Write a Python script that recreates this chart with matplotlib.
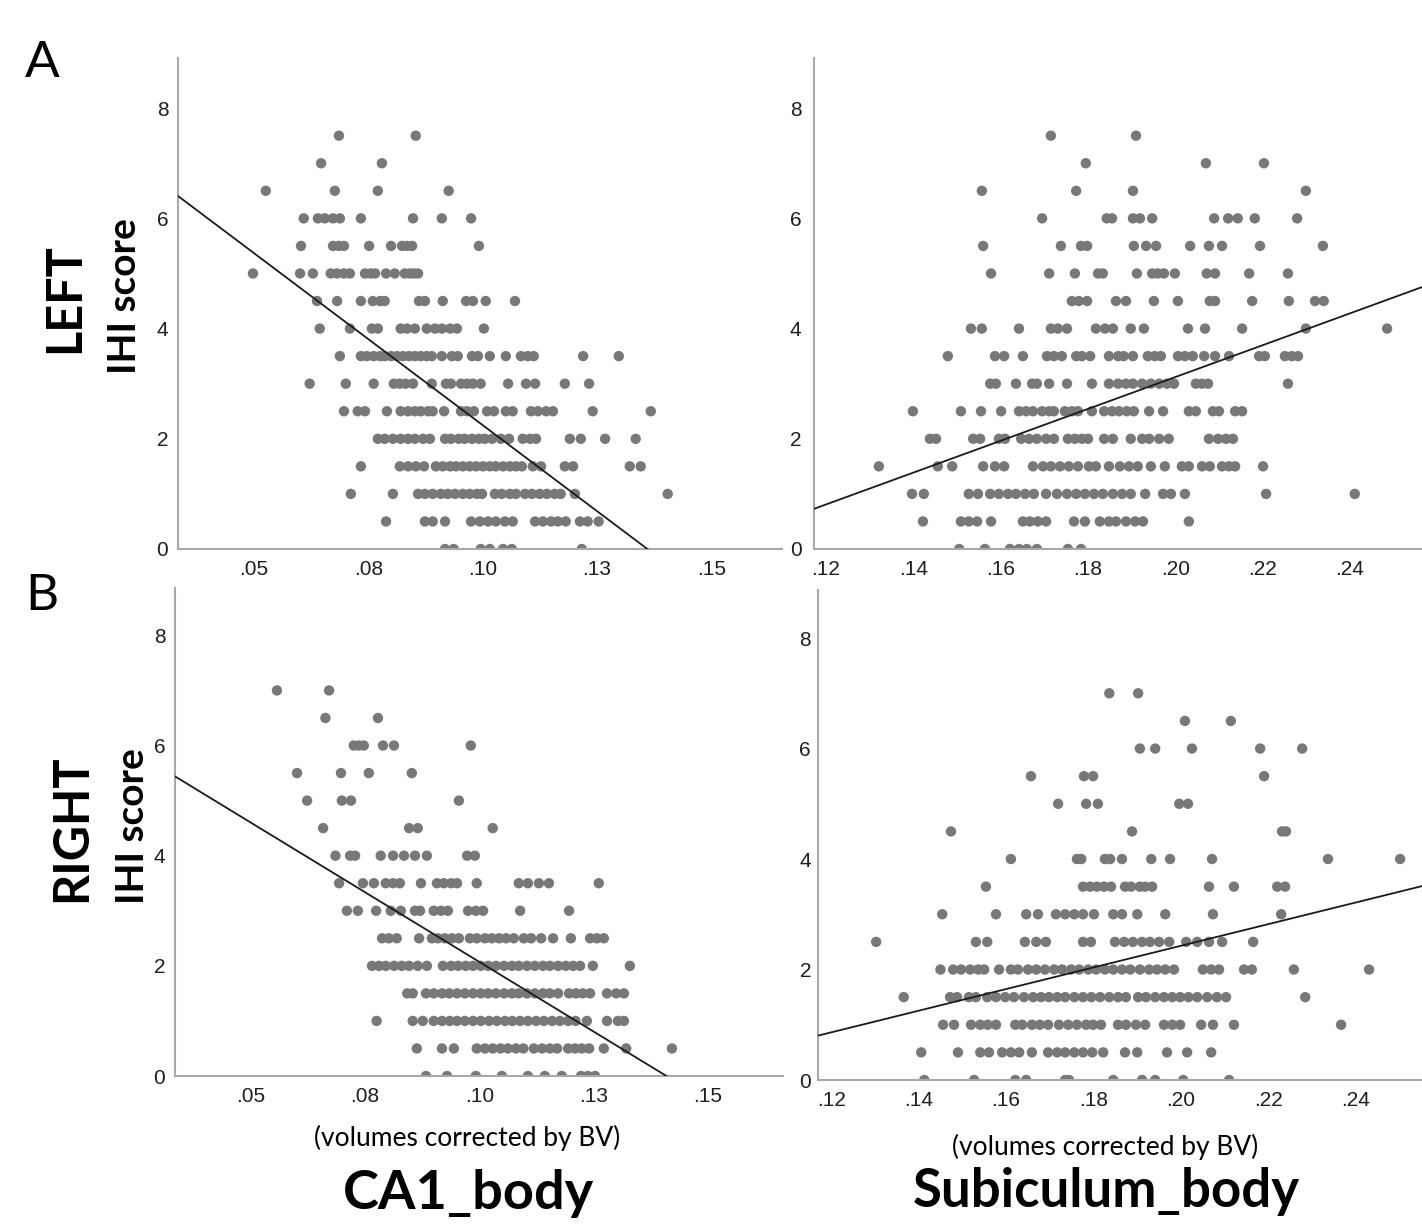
import numpy as np
import matplotlib
matplotlib.use('Agg')
import matplotlib.pyplot as plt

# IHI score rows, top to bottom (0.5 steps)
levels_left = [7.5, 7.0, 6.5, 6.0, 5.5, 5.0, 4.5, 4.0, 3.5, 3.0, 2.5, 2.0, 1.5, 1.0, 0.5, 0.0]
levels_right = [7.0, 6.5, 6.0, 5.5, 5.0, 4.5, 4.0, 3.5, 3.0, 2.5, 2.0, 1.5, 1.0, 0.5, 0.0]

# CA1_body, left hemisphere: x values per IHI row
ca1_left = [
    [0.0686, 0.0854],
    [0.0647, 0.0780],
    [0.0526, 0.0677, 0.0771, 0.0926],
    [0.0609, 0.0640, 0.0655, 0.0673, 0.0688, 0.0734, 0.0848, 0.0911, 0.0975],
    [0.0603, 0.0673, 0.0686, 0.0697, 0.0752, 0.0800, 0.0824, 0.0835, 0.0846, 0.0992],
    [0.0498, 0.0601, 0.0629, 0.0668, 0.0682, 0.0697, 0.0710, 0.0743, 0.0756, 0.0765, 0.0789, 0.0808,
     0.0830, 0.0841, 0.0850, 0.0859],
    [0.0638, 0.0682, 0.0734, 0.0760, 0.0776, 0.0786, 0.0861, 0.0874, 0.0913, 0.0964, 0.0979, 0.1007, 0.1071],
    [0.0644, 0.0710, 0.0758, 0.0771, 0.0821, 0.0835, 0.0852, 0.0878, 0.0896, 0.0911, 0.0929, 0.0944, 0.1003],
    [0.0688, 0.0734, 0.0747, 0.0762, 0.0776, 0.0786, 0.0800, 0.0813, 0.0826, 0.0839, 0.0852, 0.0865,
     0.0878, 0.0889, 0.0911, 0.0933, 0.0946, 0.0977, 0.0990, 0.1016, 0.1051, 0.1084, 0.1099, 0.1112,
     0.1220, 0.1298],
    [0.0622, 0.0701, 0.0762, 0.0806, 0.0819, 0.0832, 0.0848, 0.0889, 0.0920, 0.0931, 0.0953, 0.0966,
     0.0979, 0.0996, 0.1056, 0.1095, 0.1115, 0.1180, 0.1233],
    [0.0697, 0.0727, 0.0743, 0.0791, 0.0821, 0.0837, 0.0852, 0.0865, 0.0881, 0.0891, 0.0916, 0.0953,
     0.0966, 0.0981, 0.1010, 0.1025, 0.1051, 0.1066, 0.1106, 0.1121, 0.1139, 0.1154, 0.1241, 0.1368],
    [0.0771, 0.0786, 0.0804, 0.0821, 0.0837, 0.0852, 0.0870, 0.0885, 0.0918, 0.0931, 0.0948, 0.0961,
     0.0977, 0.0992, 0.1005, 0.1021, 0.1040, 0.1058, 0.1088, 0.1104, 0.1117, 0.1191, 0.1215, 0.1268, 0.1335],
    [0.0734, 0.0819, 0.0837, 0.0854, 0.0872, 0.0898, 0.0913, 0.0929, 0.0942, 0.0957, 0.0972, 0.0986,
     0.1001, 0.1016, 0.1029, 0.1045, 0.1060, 0.1073, 0.1086, 0.1110, 0.1128, 0.1180, 0.1198, 0.1322, 0.1346],
    [0.0712, 0.0804, 0.0859, 0.0874, 0.0891, 0.0909, 0.0924, 0.0940, 0.0957, 0.0972, 0.0988, 0.0999,
     0.1027, 0.1042, 0.1060, 0.1073, 0.1093, 0.1108, 0.1125, 0.1141, 0.1158, 0.1171, 0.1202, 0.1405],
    [0.0789, 0.0874, 0.0891, 0.0918, 0.0975, 0.0994, 0.1012, 0.1029, 0.1049, 0.1066, 0.1115, 0.1132,
     0.1150, 0.1165, 0.1182, 0.1213, 0.1230, 0.1254],
    [0.0918, 0.0937, 0.0996, 0.1016, 0.1045, 0.1064, 0.1217],
]

# Subiculum_body, left hemisphere
sub_left = [
    [0.1715, 0.1910],
    [0.1795, 0.2070, 0.2203],
    [0.1557, 0.1773, 0.1903, 0.2299],
    [0.1695, 0.1843, 0.1855, 0.1903, 0.1919, 0.1947, 0.2089, 0.2121, 0.2143, 0.2182, 0.2279],
    [0.1560, 0.1738, 0.1784, 0.1798, 0.1905, 0.1933, 0.1956, 0.2034, 0.2077, 0.2107, 0.2194, 0.2338],
    [0.1578, 0.1711, 0.1770, 0.1823, 0.1834, 0.1912, 0.1947, 0.1960, 0.1974, 0.1999, 0.2072, 0.2091,
     0.2169, 0.2258],
    [0.1763, 0.1779, 0.1798, 0.1864, 0.1887, 0.1951, 0.2006, 0.2079, 0.2091, 0.2176, 0.2260, 0.2320, 0.2340],
    [0.1532, 0.1557, 0.1642, 0.1715, 0.1731, 0.1752, 0.1818, 0.1839, 0.1857, 0.1898, 0.1928, 0.2029,
     0.2068, 0.2153, 0.2299, 0.2485],
    [0.1479, 0.1587, 0.1608, 0.1651, 0.1706, 0.1722, 0.1740, 0.1773, 0.1786, 0.1805, 0.1848, 0.1869,
     0.1882, 0.1903, 0.1937, 0.1953, 0.1967, 0.2006, 0.2022, 0.2040, 0.2066, 0.2091, 0.2123, 0.2192,
     0.2205, 0.2251, 0.2267, 0.2281],
    [0.1576, 0.1589, 0.1635, 0.1672, 0.1683, 0.1711, 0.1752, 0.1809, 0.1848, 0.1869, 0.1887, 0.1903,
     0.1924, 0.1944, 0.1963, 0.1981, 0.1997, 0.2047, 0.2061, 0.2075, 0.2258],
    [0.1399, 0.1509, 0.1555, 0.1601, 0.1642, 0.1658, 0.1674, 0.1695, 0.1711, 0.1722, 0.1747, 0.1763,
     0.1777, 0.1809, 0.1837, 0.1855, 0.1871, 0.1889, 0.1905, 0.1940, 0.1972, 0.2031, 0.2047, 0.2086,
     0.2100, 0.2137, 0.2153],
    [0.1438, 0.1452, 0.1537, 0.1553, 0.1596, 0.1610, 0.1647, 0.1665, 0.1683, 0.1704, 0.1722, 0.1754,
     0.1770, 0.1786, 0.1800, 0.1837, 0.1857, 0.1898, 0.1924, 0.1940, 0.1963, 0.1985, 0.2077, 0.2098,
     0.2116, 0.2132],
    [0.1321, 0.1456, 0.1489, 0.1560, 0.1587, 0.1608, 0.1674, 0.1697, 0.1715, 0.1736, 0.1756, 0.1777,
     0.1802, 0.1818, 0.1848, 0.1873, 0.1894, 0.1914, 0.1944, 0.1976, 0.2015, 0.2031, 0.2061, 0.2079,
     0.2107, 0.2123, 0.2137, 0.2201],
    [0.1397, 0.1424, 0.1527, 0.1548, 0.1576, 0.1596, 0.1617, 0.1635, 0.1656, 0.1676, 0.1704, 0.1729,
     0.1752, 0.1773, 0.1793, 0.1814, 0.1834, 0.1857, 0.1878, 0.1898, 0.1931, 0.1972, 0.1990, 0.2022,
     0.2208, 0.2411],
    [0.1422, 0.1509, 0.1527, 0.1546, 0.1578, 0.1651, 0.1667, 0.1685, 0.1704, 0.1768, 0.1793, 0.1827,
     0.1848, 0.1864, 0.1887, 0.1908, 0.1926, 0.2031],
    [0.1505, 0.1564, 0.1621, 0.1642, 0.1660, 0.1683, 0.1754, 0.1784],
]

# CA1_body, right hemisphere
ca1_right = [
    [0.0557, 0.0671],
    [0.0663, 0.0778],
    [0.0725, 0.0736, 0.0747, 0.0789, 0.0813, 0.0981],
    [0.0601, 0.0697, 0.0758, 0.0852],
    [0.0623, 0.0699, 0.0719, 0.0955],
    [0.0658, 0.0846, 0.0865, 0.1029],
    [0.0685, 0.0717, 0.0728, 0.0784, 0.0811, 0.0835, 0.0859, 0.0885, 0.0973, 0.0990],
    [0.0693, 0.0745, 0.0769, 0.0795, 0.0811, 0.0826, 0.0872, 0.0907, 0.0922, 0.0938, 0.0951, 0.0994,
     0.1086, 0.1106, 0.1130, 0.1152, 0.1261],
    [0.0710, 0.0734, 0.0774, 0.0806, 0.0828, 0.0859, 0.0870, 0.0900, 0.0916, 0.0931, 0.0975, 0.0992,
     0.1008, 0.1089, 0.1196],
    [0.0787, 0.0802, 0.0819, 0.0868, 0.0896, 0.0909, 0.0924, 0.0940, 0.0955, 0.0979, 0.0994, 0.1012,
     0.1027, 0.1043, 0.1058, 0.1075, 0.1097, 0.1113, 0.1135, 0.1161, 0.1200, 0.1242, 0.1257, 0.1272],
    [0.0765, 0.0780, 0.0795, 0.0813, 0.0830, 0.0846, 0.0865, 0.0885, 0.0920, 0.0938, 0.0953, 0.0970,
     0.0986, 0.1003, 0.1019, 0.1036, 0.1054, 0.1071, 0.1086, 0.1104, 0.1121, 0.1139, 0.1154, 0.1172,
     0.1189, 0.1205, 0.1220, 0.1248, 0.1329],
    [0.0842, 0.0854, 0.0883, 0.0900, 0.0918, 0.0934, 0.0951, 0.0968, 0.0986, 0.1003, 0.1019, 0.1036,
     0.1054, 0.1071, 0.1086, 0.1104, 0.1121, 0.1139, 0.1154, 0.1172, 0.1196, 0.1211, 0.1226, 0.1242,
     0.1279, 0.1299, 0.1316],
    [0.0775, 0.0854, 0.0876, 0.0900, 0.0918, 0.0935, 0.0951, 0.0968, 0.0986, 0.1003, 0.1021, 0.1038,
     0.1056, 0.1072, 0.1089, 0.1106, 0.1124, 0.1141, 0.1159, 0.1176, 0.1194, 0.1210, 0.1235, 0.1279,
     0.1303, 0.1316],
    [0.0863, 0.0918, 0.0944, 0.0994, 0.1012, 0.1029, 0.1046, 0.1062, 0.1080, 0.1096, 0.1119, 0.1137,
     0.1154, 0.1170, 0.1194, 0.1209, 0.1224, 0.1240, 0.1272, 0.1321, 0.1421],
    [0.0883, 0.0929, 0.0992, 0.1049, 0.1106, 0.1143, 0.1180, 0.1222, 0.1237, 0.1253],
]

# Subiculum_body, right hemisphere
sub_right = [
    [0.1836, 0.1902],
    [0.2009, 0.2114],
    [0.1906, 0.1941, 0.2025, 0.2181, 0.2277],
    [0.1657, 0.1778, 0.1799, 0.2190],
    [0.1719, 0.1783, 0.1810, 0.1996, 0.2016],
    [0.1474, 0.1888, 0.2231, 0.2240],
    [0.1611, 0.1762, 0.1772, 0.1826, 0.1838, 0.1865, 0.1932, 0.1975, 0.2071, 0.2336, 0.2501],
    [0.1554, 0.1776, 0.1792, 0.1808, 0.1824, 0.1840, 0.1872, 0.1886, 0.1906, 0.1918, 0.1934, 0.2064,
     0.2121, 0.2220, 0.2238],
    [0.1454, 0.1577, 0.1646, 0.1673, 0.1714, 0.1735, 0.1756, 0.1776, 0.1801, 0.1845, 0.1865, 0.1900,
     0.1964, 0.2073, 0.2229],
    [0.1303, 0.1531, 0.1557, 0.1643, 0.1669, 0.1691, 0.1776, 0.1794, 0.1849, 0.1870, 0.1890, 0.1911,
     0.1929, 0.1950, 0.1973, 0.2012, 0.2037, 0.2064, 0.2094, 0.2165],
    [0.1450, 0.1479, 0.1497, 0.1518, 0.1536, 0.1550, 0.1584, 0.1611, 0.1627, 0.1650, 0.1669, 0.1689,
     0.1710, 0.1728, 0.1749, 0.1767, 0.1788, 0.1806, 0.1826, 0.1845, 0.1865, 0.1884, 0.1906, 0.1927,
     0.1945, 0.1964, 0.1984, 0.2050, 0.2069, 0.2087, 0.2144, 0.2162, 0.2258, 0.2430],
    [0.1366, 0.1472, 0.1488, 0.1515, 0.1531, 0.1557, 0.1577, 0.1598, 0.1618, 0.1641, 0.1662, 0.1680,
     0.1698, 0.1717, 0.1735, 0.1756, 0.1776, 0.1795, 0.1815, 0.1836, 0.1856, 0.1874, 0.1902, 0.1920,
     0.1941, 0.1961, 0.1980, 0.1998, 0.2017, 0.2037, 0.2060, 0.2082, 0.2103, 0.2284],
    [0.1456, 0.1481, 0.1520, 0.1541, 0.1558, 0.1577, 0.1621, 0.1637, 0.1659, 0.1677, 0.1696, 0.1721,
     0.1742, 0.1762, 0.1783, 0.1799, 0.1817, 0.1856, 0.1874, 0.1897, 0.1918, 0.1961, 0.1980, 0.1998,
     0.2046, 0.2073, 0.2121, 0.2366],
    [0.1406, 0.1490, 0.1541, 0.1561, 0.1591, 0.1611, 0.1630, 0.1659, 0.1696, 0.1717, 0.1735, 0.1756,
     0.1776, 0.1797, 0.1822, 0.1872, 0.1900, 0.1968, 0.2014, 0.2069],
    [0.1413, 0.1527, 0.1621, 0.1646, 0.1735, 0.1744, 0.1845, 0.1911, 0.1941, 0.2005, 0.2110],
]

# fit lines (slope, intercept)
fit_ca1_left = (-62.4, 8.49)
fit_sub_left = (28.9, -2.66)
fit_ca1_right = (-50.6, 7.13)
fit_sub_right = (19.6, -1.49)

ca1_ticks = [0.05, 0.075, 0.10, 0.125, 0.15]
ca1_ticklabels = ['.05', '.08', '.10', '.13', '.15']
sub_ticks = [0.12, 0.14, 0.16, 0.18, 0.20, 0.22, 0.24]
sub_ticklabels = ['.12', '.14', '.16', '.18', '.20', '.22', '.24']
y_ticks = [0, 2, 4, 6, 8]

W, H = 1422, 1224
fig = plt.figure(figsize=(W / 100, H / 100), dpi=100)
fig.patch.set_facecolor('white')


def box(left, top, right, bottom):
    return [left / W, 1 - bottom / H, (right - left) / W, (bottom - top) / H]


def panel(rect, rows, levels, fit, xlim, ylim_top, ticks, ticklabels, ypad):
    ax = fig.add_axes(rect)
    xs = np.concatenate([np.array(r) for r in rows])
    ys = np.concatenate([np.full(len(r), lv) for r, lv in zip(rows, levels)])
    ax.scatter(xs, ys, s=56, color='#787878', edgecolors='none', zorder=2)
    lx = np.array(xlim)
    ax.plot(lx, fit[1] + fit[0] * lx, color='#1a1a1a', lw=1.3, zorder=3)
    ax.set_xlim(xlim)
    ax.set_ylim(0, ylim_top)
    ax.set_xticks(ticks)
    ax.set_xticklabels(ticklabels)
    ax.set_yticks(y_ticks)
    for s in ['top', 'right']:
        ax.spines[s].set_visible(False)
    for s in ['left', 'bottom']:
        ax.spines[s].set_color('#a8a8a8')
        ax.spines[s].set_linewidth(1.5)
    ax.tick_params(axis='x', length=0, pad=8, labelsize=15, labelcolor='#1e1e1e')
    ax.tick_params(axis='y', length=0, pad=ypad, labelsize=15, labelcolor='#1e1e1e')
    for lab in ax.get_xticklabels() + ax.get_yticklabels():
        lab.set_family('Liberation Sans')
    return ax


panel(box(178, 58, 782, 549), ca1_left, levels_left, fit_ca1_left,
      (0.0334, 0.1655), 8.91, ca1_ticks, ca1_ticklabels, 7)
panel(box(814, 58, 1422, 549), sub_left, levels_left, fit_sub_left,
      (0.11725, 0.2565), 8.91, sub_ticks, sub_ticklabels, 9)
panel(box(175, 588, 783, 1076), ca1_right, levels_right, fit_ca1_right,
      (0.0334, 0.1664), 8.86, ca1_ticks, ca1_ticklabels, 7)
panel(box(818, 590, 1422, 1080), sub_right, levels_right, fit_sub_right,
      (0.117, 0.2551), 8.87, sub_ticks, sub_ticklabels, 5)


def ftext(x, y, s, **kw):
    fig.text(x / W, 1 - y / H, s, ha='center', va='center', family='Lato', **kw)


ftext(42, 63, 'A', fontsize=37)
ftext(42, 596, 'B', fontsize=37)
ftext(65, 298, 'LEFT', fontsize=35, fontweight='bold', rotation=90)
ftext(125, 296, 'IHI score', fontsize=28, fontweight='bold', rotation=90)
ftext(72, 828, 'RIGHT', fontsize=35, fontweight='bold', rotation=90)
ftext(133, 826, 'IHI score', fontsize=28, fontweight='bold', rotation=90)
ftext(467, 1138, '(volumes corrected by BV)', fontsize=19)
ftext(1105, 1147, '(volumes corrected by BV)', fontsize=19)
ftext(468, 1193, 'CA1_body', fontsize=39, fontweight='bold')
ftext(1106, 1192, 'Subiculum_body', fontsize=38, fontweight='bold')

fig.savefig('out.png', dpi=100, facecolor='white')
